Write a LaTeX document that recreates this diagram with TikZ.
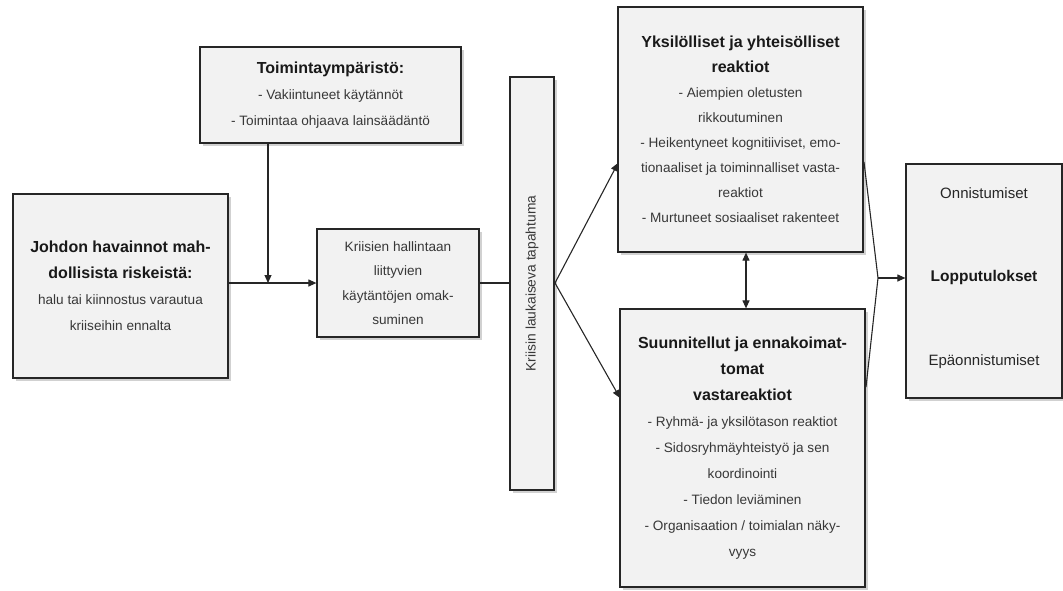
\documentclass[tikz,border=0pt]{standalone}
\usepackage{fontspec}
\setmainfont{Liberation Sans}
\usetikzlibrary{arrows.meta,shadows}
% bold heading line inside the boxes
\newcommand{\hdline}[1]{{\fontsize{16}{26}\selectfont\bfseries\color{black!90}#1}}
\begin{document}
\begin{tikzpicture}[x=1pt,y=-1pt,
  box/.style={draw=black!85, line width=1.2pt, fill=black!5, inner sep=2pt,
    align=center, text=black!78,
    drop shadow={shadow xshift=2.5pt, shadow yshift=-3pt, opacity=0.3, fill=black!60}},
  bodyfont/.style={font=\fontsize{13.6}{26}\selectfont},
  arr/.style={line width=1.1pt, draw=black!85, -{Triangle[length=8pt,width=7pt]}},
  link/.style={line width=1.1pt, draw=black!85},
  biarr/.style={line width=1.1pt, draw=black!85, {Triangle[length=8pt,width=7pt]}-{Triangle[length=8pt,width=7pt]}}
]
\useasboundingbox (0,0) rectangle (1063,590);

% management's perception of risks
\node[box, minimum width=215pt, minimum height=184pt, bodyfont] (obs) at (120.5,286)
  {\hdline{Johdon havainnot mah-}\\\hdline{dollisista riskeistä:}\\
   halu tai kiinnostus varautua\\kriiseihin ennalta};

% operating environment
\node[box, minimum width=261pt, minimum height=96pt, bodyfont] (env) at (330.5,95)
  {\hdline{Toimintaympäristö:}\\
   - Vakiintuneet käytännöt\\- Toimintaa ohjaava lainsäädäntö};

% adoption of practices
\node[box, minimum width=162pt, minimum height=108pt,
      font=\fontsize{13.6}{24.5}\selectfont] (adopt) at (398,283)
  {Kriisien hallintaan\\liittyvien\\käytäntöjen omak-\\suminen};

% triggering event (rotated: its north anchor is the left side)
\node[box, minimum width=413pt, minimum height=44pt, rotate=90,
      font=\fontsize{13.8}{16}\selectfont] (event) at (532,283.5)
  {Kriisin laukaiseva tapahtuma};

% individual and collective reactions
\node[box, minimum width=245pt, minimum height=245pt, font=\fontsize{13.6}{25}\selectfont] (react) at (740.5,129.5)
  {\hdline{Yksilölliset ja yhteisölliset}\\\hdline{reaktiot}\\
   - Aiempien oletusten\\rikkoutuminen\\- Heikentyneet kognitiiviset, emo-\\
   tionaaliset ja toiminnalliset vasta-\\reaktiot\\- Murtuneet sosiaaliset rakenteet};

% planned and unforeseen responses
\node[box, minimum width=245pt, minimum height=278pt, bodyfont] (resp) at (742.5,448)
  {\hdline{Suunnitellut ja ennakoimat-}\\\hdline{tomat}\\\hdline{vastareaktiot}\\
   - Ryhmä- ja yksilötason reaktiot\\- Sidosryhmäyhteistyö ja sen\\koordinointi\\
   - Tiedon leviäminen\\- Organisaation / toimialan näky-\\vyys};

% outcomes
\node[box, minimum width=156pt, minimum height=234pt] (out) at (984,281) {};
\node[font=\fontsize{15}{18}\selectfont, text=black!85] (succ) at (984,193) {Onnistumiset};
\node[font=\fontsize{15.5}{18}\selectfont\bfseries, text=black!90] (res) at (984,277) {Lopputulokset};
\node[font=\fontsize{15}{18}\selectfont, text=black!85] (fail) at (984,362) {Epäonnistumiset};

% connectors
\coordinate (join) at (268,283);
\coordinate (fork) at (555,283);
\coordinate (inA) at (618,163);
\coordinate (inB) at (620,398);
\coordinate (outA) at (864,162);
\coordinate (outB) at (866,387);
\coordinate (merge) at (878,278);
\coordinate (dbl) at (746,0);

\draw[arr] (obs.east |- join) -- (join -| adopt.west);
\draw[arr] (env.south -| join) -- (join);
\draw[link] (adopt.east |- fork) -- (fork -| event.north);
\draw[arr] (fork) -- (inA);
\draw[arr] (fork) -- (inB);
\draw[biarr] (react.south -| dbl) -- (resp.north -| dbl);
\draw[link] (outA) -- (merge) -- (outB);
\draw[arr] (merge) -- (merge -| out.west);
\end{tikzpicture}
\end{document}
